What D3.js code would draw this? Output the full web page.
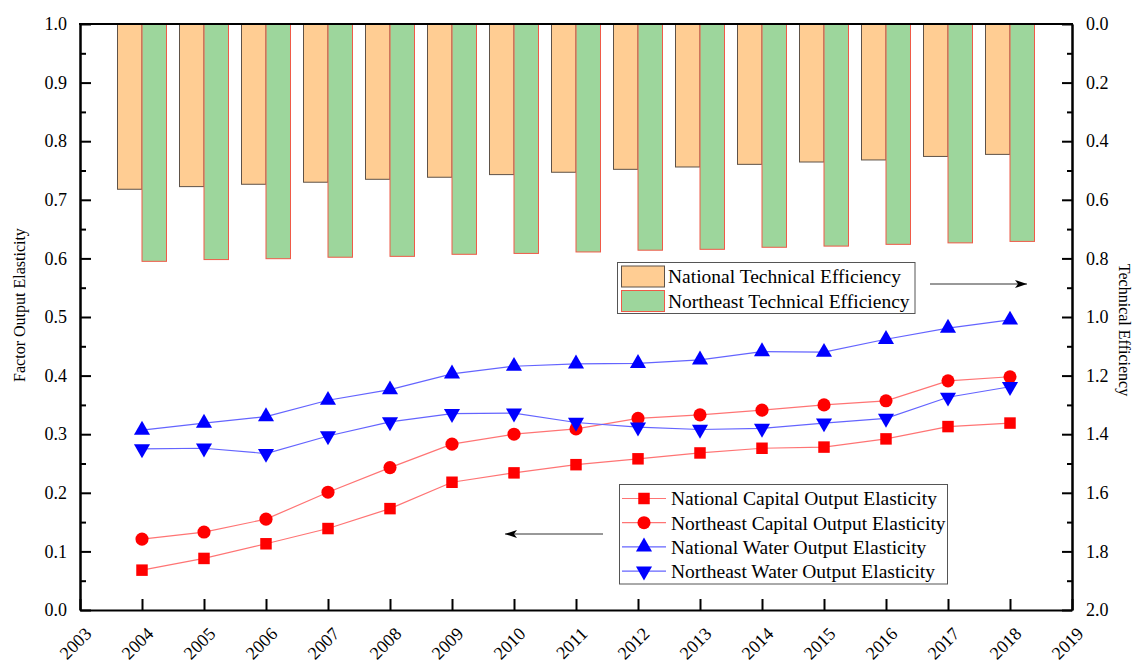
<!DOCTYPE html>
<html>
<head>
  <script src="https://d3js.org/d3.v7.min.js"></script>
  <meta charset="utf-8">
  <title>Factor Output Elasticity and Technical Efficiency</title>
  <style>
    body {margin: 0; background: #fff;}
    .axis path, .axis line {stroke: #000; stroke-width: 2;}
  </style>
</head>
<body>
<div id="chart"></div>
<script>
  /* Chart data */
  const years = [2004, 2005, 2006, 2007, 2008, 2009, 2010, 2011, 2012, 2013, 2014, 2015, 2016, 2017, 2018];
  const nationalTE  = [0.564, 0.555, 0.547, 0.540, 0.530, 0.523, 0.514, 0.506, 0.496, 0.488, 0.479, 0.471, 0.464, 0.452, 0.445];
  const northeastTE = [0.810, 0.804, 0.801, 0.796, 0.793, 0.786, 0.783, 0.778, 0.772, 0.769, 0.762, 0.758, 0.752, 0.747, 0.742];
  const capitalNational  = [0.068, 0.088, 0.113, 0.139, 0.173, 0.218, 0.234, 0.248, 0.258, 0.268, 0.276, 0.278, 0.292, 0.313, 0.319];
  const capitalNortheast = [0.121, 0.133, 0.155, 0.201, 0.243, 0.283, 0.300, 0.309, 0.327, 0.333, 0.341, 0.350, 0.357, 0.391, 0.398];
  const waterNational    = [0.307, 0.319, 0.330, 0.358, 0.376, 0.403, 0.416, 0.420, 0.421, 0.427, 0.441, 0.440, 0.462, 0.481, 0.495];
  const waterNortheast   = [0.275, 0.276, 0.267, 0.297, 0.321, 0.335, 0.336, 0.320, 0.312, 0.308, 0.310, 0.319, 0.327, 0.363, 0.381];
  const xTicks = d3.range(2003, 2020);

  const FONT = "'Liberation Serif', 'Times New Roman', Times, serif";

  /* SVG canvas */
  const W = 1136, H = 664;
  const pLeft = 80, pRight = 1072, pTop = 24, pBottom = 610;

  const svg = d3.select("#chart").append("svg")
                .attr("width", W).attr("height", H)
                .attr("font-family", FONT);

  const x = d3.scaleLinear().domain([2003, 2019]).range([pLeft, pRight]);
  const y = d3.scaleLinear().domain([0, 1]).range([pBottom, pTop]);
  const yR = d3.scaleLinear().domain([0, 2]).range([pTop, pBottom]);

  /* Bars hanging from the top (right axis) */
  const bw = 24.5;
  svg.append("g").selectAll("rect")
     .data(years.map((d, i) => ({year: d, v: nationalTE[i]})))
     .enter().append("rect")
     .attr("x", d => x(d.year) - bw)
     .attr("y", yR(0))
     .attr("width", bw)
     .attr("height", d => yR(d.v) - yR(0))
     .attr("fill", "#ffcd93")
     .attr("stroke", "#5e5248")
     .attr("stroke-width", 1);

  svg.append("g").selectAll("rect")
     .data(years.map((d, i) => ({year: d, v: northeastTE[i]})))
     .enter().append("rect")
     .attr("x", d => x(d.year))
     .attr("y", yR(0))
     .attr("width", bw)
     .attr("height", d => yR(d.v) - yR(0))
     .attr("fill", "#9dd69c")
     .attr("stroke", "#ef5a48")
     .attr("stroke-width", 1);

  /* Lines */
  const series = [
    {name: "National Capital Output Elasticity",  values: capitalNational,  line: "#ff7474", fill: "#ff0000", sym: d3.symbolSquare,   size: 132, rot: 0},
    {name: "Northeast Capital Output Elasticity", values: capitalNortheast, line: "#ff7474", fill: "#ff0000", sym: d3.symbolCircle,   size: 135, rot: 0},
    {name: "National Water Output Elasticity",    values: waterNational,    line: "#6464ff", fill: "#0000ff", sym: d3.symbolTriangle, size: 112, rot: 0},
    {name: "Northeast Water Output Elasticity",   values: waterNortheast,   line: "#6464ff", fill: "#0000ff", sym: d3.symbolTriangle, size: 112, rot: 180}
  ];

  const line = d3.line().x(d => x(d[0])).y(d => y(d[1]));

  series.forEach(s => {
    const pts = years.map((yr, i) => [yr, s.values[i]]);
    svg.append("path").datum(pts)
       .attr("d", line)
       .attr("fill", "none")
       .attr("stroke", s.line)
       .attr("stroke-width", 1.2);
    svg.append("g").selectAll("path")
       .data(pts).enter().append("path")
       .attr("d", d3.symbol().type(s.sym).size(s.size))
       .attr("transform", d => `translate(${x(d[0])},${y(d[1])}) rotate(${s.rot})`)
       .attr("fill", s.fill);
  });

  /* Axes */
  const styleAxis = g => g.attr("font-family", FONT).attr("font-size", 18)
                          .selectAll("text").style("font-family", FONT).attr("fill", "#000");

  svg.append("g").attr("class", "axis")
     .attr("transform", `translate(${pLeft},0)`)
     .call(d3.axisLeft(y).tickValues(d3.range(0, 1.01, 0.1)).tickFormat(d3.format(".1f"))
             .tickSizeInner(-11).tickSizeOuter(0).tickPadding(13))
     .call(styleAxis);
  svg.append("g").attr("class", "axis")
     .attr("transform", `translate(${pLeft},0)`)
     .call(d3.axisLeft(y).tickValues(d3.range(0.05, 1, 0.1)).tickFormat("")
             .tickSizeInner(-6).tickSizeOuter(0));

  svg.append("g").attr("class", "axis")
     .attr("transform", `translate(${pRight},0)`)
     .call(d3.axisRight(yR).tickValues(d3.range(0, 2.01, 0.2)).tickFormat(d3.format(".1f"))
             .tickSizeInner(-10).tickSizeOuter(0).tickPadding(14))
     .call(styleAxis);
  svg.append("g").attr("class", "axis")
     .attr("transform", `translate(${pRight},0)`)
     .call(d3.axisRight(yR).tickValues(d3.range(0.1, 2, 0.2)).tickFormat("")
             .tickSizeInner(-5).tickSizeOuter(0));

  const xAxis = svg.append("g").attr("class", "axis")
     .attr("transform", `translate(0,${pBottom})`)
     .call(d3.axisBottom(x).tickValues(xTicks).tickFormat(d3.format("d"))
             .tickSizeInner(-11).tickSizeOuter(0))
     .call(styleAxis);
  xAxis.selectAll("text")
       .attr("text-anchor", "end")
       .attr("y", 0).attr("dy", 0)
       .attr("transform", "translate(12,25) rotate(-45)");

  svg.append("line")
     .attr("x1", pLeft - 1).attr("x2", pRight + 1)
     .attr("y1", pTop).attr("y2", pTop)
     .attr("stroke", "#000").attr("stroke-width", 2);

  /* Axis titles */
  svg.append("text")
     .attr("transform", "translate(25,305) rotate(-90)")
     .attr("text-anchor", "middle")
     .style("font-family", FONT)
     .style("font-size", "16px")
     .text("Factor Output Elasticity");
  svg.append("text")
     .attr("transform", "translate(1119,330) rotate(90)")
     .attr("text-anchor", "middle")
     .style("font-family", FONT)
     .style("font-size", "16px")
     .text("Technical Efficiency");

  /* Arrow heads */
  const defs = svg.append("defs");
  defs.append("marker")
      .attr("id", "arrow")
      .attr("viewBox", "0 0 12 8")
      .attr("refX", 12).attr("refY", 4)
      .attr("markerWidth", 12).attr("markerHeight", 8)
      .attr("markerUnits", "userSpaceOnUse")
      .attr("orient", "auto")
      .append("path").attr("d", "M0,0 L12,4 L0,8 L3,4 Z").attr("fill", "#000");

  svg.append("line")
     .attr("x1", 930).attr("x2", 1027).attr("y1", 284).attr("y2", 284)
     .attr("stroke", "#333").attr("stroke-width", 1)
     .attr("marker-end", "url(#arrow)");
  svg.append("line")
     .attr("x1", 603).attr("x2", 505).attr("y1", 534).attr("y2", 534)
     .attr("stroke", "#333").attr("stroke-width", 1)
     .attr("marker-end", "url(#arrow)");

  /* Legend: bars */
  const barLegend = [
    {name: "National Technical Efficiency", fill: "#ffcd93", stroke: "#5e5248"},
    {name: "Northeast Technical Efficiency", fill: "#9dd69c", stroke: "#ef5a48"}
  ];
  svg.append("rect")
     .attr("x", 617.5).attr("y", 262.5).attr("width", 297.5).attr("height", 51)
     .attr("fill", "#fff").attr("stroke", "#555").attr("stroke-width", 1);
  barLegend.forEach((d, i) => {
    const cy = 276.5 + i * 24.5;
    svg.append("rect")
       .attr("x", 621.5).attr("y", cy - 10.5).attr("width", 43).attr("height", 21)
       .attr("fill", d.fill).attr("stroke", d.stroke);
    svg.append("text")
       .attr("x", 668).attr("y", cy).attr("dy", "0.35em")
       .style("font-family", FONT)
       .style("font-size", "19.5px")
       .text(d.name);
  });

  /* Legend: lines */
  svg.append("rect")
     .attr("x", 619.5).attr("y", 484.5).attr("width", 328).attr("height", 99.5)
     .attr("fill", "#fff").attr("stroke", "#555").attr("stroke-width", 1);
  series.forEach((s, i) => {
    const cy = 498.5 + i * 24.2;
    svg.append("line")
       .attr("x1", 622).attr("x2", 666).attr("y1", cy).attr("y2", cy)
       .attr("stroke", s.line).attr("stroke-width", 1.2);
    svg.append("path")
       .attr("d", d3.symbol().type(s.sym).size(s.size))
       .attr("transform", `translate(644,${cy}) rotate(${s.rot})`)
       .attr("fill", s.fill);
    svg.append("text")
       .attr("x", 671).attr("y", cy).attr("dy", "0.35em")
       .style("font-family", FONT)
       .style("font-size", "19.5px")
       .text(s.name);
  });
</script>
</body>
</html>
